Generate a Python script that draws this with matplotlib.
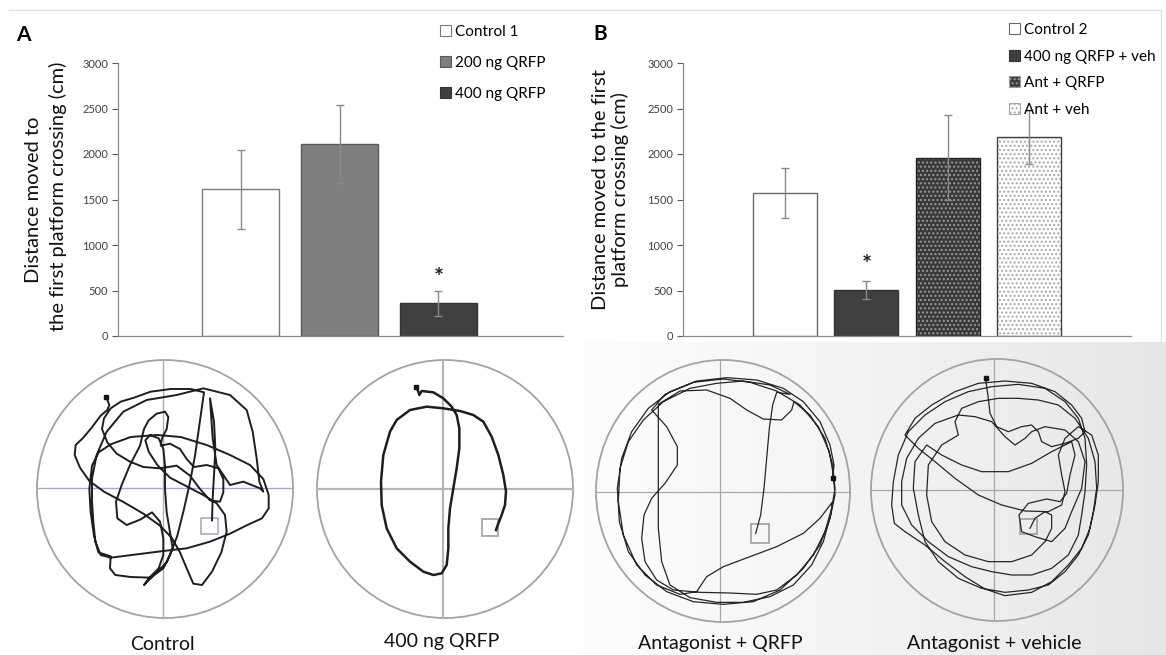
import numpy as np
import matplotlib
matplotlib.use("Agg")
import matplotlib.pyplot as plt
from matplotlib.patches import Patch, Ellipse, Rectangle

plt.rcParams['font.family'] = ['Lato', 'DejaVu Sans']

# ---------------- data ----------------
labels_a = ["Control 1", "200 ng QRFP", "400 ng QRFP"]
means_a = [1610, 2110, 360]
errs_a = [435, 425, 135]

labels_b = ["Control 2", "400 ng QRFP + veh", "Ant + QRFP", "Ant + veh"]
means_b = [1570, 505, 1960, 2185]
errs_b = [275, 95, 465, 300]

yticks = [0, 500, 1000, 1500, 2000, 2500, 3000]
pool_titles = ["Control", "400 ng QRFP", "Antagonist + QRFP", "Antagonist + vehicle"]

# swim tracks (traced waypoints, in 1/3-pixel units within each pool crop)
track_control = [
    (228,125),(238,150),(232,165),(212,182),(185,218),(158,250),(137,270),(134,300),(150,338),(178,378),
    (222,410),(282,442),(340,476),(390,512),(425,548),(450,592),(470,640),(490,686),(516,690),(546,650),
    (574,592),(590,530),(585,480),(560,445),(520,420),(470,394),(420,368),(382,330),(356,290),(346,256),
    (360,240),(386,250),(400,282),(405,332),(405,402),(410,472),(420,532),(428,580),(410,622),(380,652),
    (352,680),(342,690),(356,670),(386,640),(400,600),(400,550),(390,500),(366,472),(330,494),(290,510),
    (262,490),(258,440),(275,390),(300,330),(330,272),(342,222),(356,196),(380,176),(405,170),(415,186),
    (410,222),(396,250),(392,272),(420,266),(450,282),(470,312),(492,336),(530,330),(565,340),(580,372),
    (580,412),(570,440),(540,436),(510,402),(480,362),(440,332),(390,340),(340,336),(300,320),(260,296),
    (232,262),(216,222),(222,190),(242,160),(272,140),(312,128),(362,110),(422,102),(482,102),(522,112),
    (515,162),(505,232),(495,302),(480,382),(462,462),(442,542),(420,600),(400,640),(362,668),(302,666),
    (256,660),(240,640),(242,604),(205,592),(192,542),(182,472),(178,402),(186,332),(206,292),(242,268),
    (302,246),(382,240),(452,246),(530,270),(600,300),(660,330),(700,372),(716,420),(716,460),(696,490),
    (652,510),(600,536),(540,560),(470,580),(400,588),(320,598),(242,608),(212,600),(196,560),(190,500),
    (186,440),(186,370),(200,300),(230,230),(280,170),(350,135),(440,120),(520,100),(600,120),(650,165),
    (668,230),(680,310),(688,380),(700,410),(690,400),(640,380),(600,390),(560,330),(548,250),(540,130),
    (552,200),(556,280),(552,360),(548,430),(546,496),
]
track_qrfp = [
    (318,95),(325,110),(328,120),(335,108),(370,112),(400,130),(425,155),(440,180),(448,220),(448,280),
    (440,340),(430,400),(420,460),(415,520),(415,580),(410,630),(395,655),(370,660),(340,650),(300,620),
    (260,580),(230,520),(215,450),(213,380),(220,300),(240,230),(260,195),(300,165),(350,155),(400,160),
    (450,168),(490,180),(520,200),(545,245),(565,300),(580,360),(588,410),(585,450),(575,480),(565,505),
    (558,525),
]
track_ant_qrfp = [
    (728,370),(732,330),(720,270),(690,200),(640,140),(580,100),(500,75),(410,68),(320,78),(240,110),
    (175,160),(125,230),(95,310),(82,400),(88,500),(115,590),(165,660),(230,710),(310,740),(400,748),
    (490,740),(570,705),(640,640),(690,570),(720,490),(735,420),(730,360),(718,290),(685,215),(630,150),
    (560,108),(480,82),(400,72),(310,82),(225,118),(185,165),(230,215),(262,275),(262,330),(225,385),
    (185,430),(162,480),(155,550),(165,620),(200,675),(250,705),(330,712),(420,714),(500,718),(560,705),
    (620,660),(670,600),(705,530),(725,460),(735,400),(728,330),(705,250),(660,180),(612,140),(605,165),
    (575,195),(520,192),(470,165),(420,130),(350,105),(270,108),(205,148),(205,260),(205,400),(205,520),
    (215,620),(240,690),(300,728),(380,742),(460,742),(540,725),(610,690),(665,630),(700,560),(722,480),
    (728,440),(690,490),(640,535),(560,575),(480,605),(400,635),(350,665),(320,710),(270,718),(200,690),
    (140,630),(100,540),(85,440),(90,340),(115,260),(160,195),(220,140),(300,100),(380,85),(460,78),
    (540,90),(600,118),(560,112),(548,150),(538,220),(530,310),(522,400),(512,480),(497,535),
]
track_ant_veh = [
    (362,68),(365,95),(370,130),(375,175),(395,215),(430,230),(470,215),(500,210),(520,230),(530,260),
    (560,275),(600,265),(640,250),(660,230),(650,190),(620,150),(570,110),(500,85),(420,78),(340,85),
    (270,110),(200,150),(150,190),(120,240),(160,280),(210,320),(270,370),(340,420),(410,450),(480,468),
    (550,470),(590,450),(600,410),(590,360),(580,300),(600,250),(640,215),(680,240),(700,300),(700,380),
    (690,450),(675,520),(650,580),(610,630),(560,680),(500,712),(420,722),(360,702),(300,665),(240,620),
    (180,570),(120,530),(88,505),(80,450),(85,380),(100,300),(130,230),(180,180),(240,140),(310,110),
    (380,95),(460,88),(540,100),(600,140),(640,190),(660,250),(665,330),(660,410),(650,480),(640,540),
    (610,600),(560,640),(500,660),(440,660),(380,650),(320,635),(250,605),(190,560),(140,510),(110,450),
    (110,380),(125,310),(160,250),(210,205),(280,180),(330,185),(380,200),(420,245),(450,270),(480,250),
    (500,230),(540,215),(600,225),(640,260),(660,320),(650,400),(620,470),(600,520),(560,560),(510,545),
    (470,530),(462,480),(490,445),(545,432),(585,440),(605,415),(615,360),(630,300),(620,260),(560,290),
    (500,325),(430,350),(350,350),(290,330),(230,300),(185,270),(150,320),(145,400),(160,480),(180,560),
    (220,620),(280,670),(350,700),(420,712),(490,705),(550,690),(600,650),(640,600),(670,540),(685,470),
    (695,400),(690,320),(670,250),(630,190),(580,150),(520,135),(460,130),(400,130),(340,140),(290,160),
    (270,200),(280,240),(230,270),(190,330),(185,420),(200,500),(240,560),(300,600),(370,620),(440,620),
    (500,600),(540,560),(560,520),(560,480),(540,470),(510,490),(495,520),
]

# ---------------- figure ----------------
W, H = 1166, 655
fig = plt.figure(figsize=(W / 100, H / 100), dpi=100)
fig.patch.set_facecolor('white')

# overlay in pixel coordinates for the photos
ov = fig.add_axes([0, 0, 1, 1])
ov.set_xlim(0, W)
ov.set_ylim(H, 0)
ov.axis('off')

# grey gradient background behind right photos
grad = np.linspace(0, 1, 256)[None, :]
ov.imshow(grad, extent=(583, W, H, 342), cmap=matplotlib.colors.LinearSegmentedColormap.from_list(
    'g', ['#fdfdfd', '#f3f3f3', '#e6e6e6']), vmin=0, vmax=1, aspect='auto', zorder=0)
ov.set_xlim(0, W)
ov.set_ylim(H, 0)

# frame lines
ov.plot([9, 1161], [10, 10], color='#e3e3e3', lw=1, zorder=1)
ov.plot([1161, 1161], [10, 343], color='#e3e3e3', lw=1, zorder=1)

pools = [
    dict(off=(30, 355), c=(165, 489), rx=128, ry=129, vx=163, hy=488, plat=(201, 518, 17, 16),
         cc='#a9a9cf', pc='#a9a9cf', clw=1.0, tr=track_control, tlw=1.4, tc='#1e1e1e'),
    dict(off=(310, 355), c=(445, 489), rx=128, ry=129, vx=443, hy=489, plat=(482, 519, 16, 17),
         cc='#b5b5b5', pc='#a0a0a0', clw=1.6, tr=track_qrfp, tlw=1.8, tc='#1e1e1e'),
    dict(off=(590, 355), c=(723, 491), rx=127, ry=131, vx=720, hy=492, plat=(751, 524, 18, 19),
         cc='#a8a8a8', pc='#a0a0a0', clw=0.9, tr=track_ant_qrfp, tlw=0.9, tc='#262626'),
    dict(off=(865, 355), c=(997, 490), rx=126, ry=131, vx=994, hy=490, plat=(1020, 519, 17, 15),
         cc='#a8a8a8', pc='#a0a0a0', clw=0.9, tr=track_ant_veh, tlw=0.9, tc='#262626'),
]
title_y = [644, 642, 644, 643]
for p, t, ty in zip(pools, pool_titles, title_y):
    cx, cy = p['c']
    ov.add_patch(Ellipse((cx, cy), 2 * p['rx'], 2 * p['ry'], fill=False,
                         edgecolor='#a3a3a3', lw=1.3, zorder=2))
    ov.plot([p['vx'], p['vx']], [cy - p['ry'], cy + p['ry']], color=p['cc'], lw=p['clw'], zorder=2)
    ov.plot([cx - p['rx'], cx + p['rx']], [p['hy'], p['hy']], color=p['cc'], lw=p['clw'], zorder=2)
    px, py, pw, ph = p['plat']
    ov.add_patch(Rectangle((px, py), pw, ph, fill=False, edgecolor=p['pc'], lw=1.2, zorder=2))
    tr = np.array(p['tr'], dtype=float)
    ox, oy = p['off']
    xs = ox + tr[:, 0] / 3.0
    ys = oy + tr[:, 1] / 3.0
    ov.plot(xs, ys, color=p['tc'], lw=p['tlw'], zorder=3, solid_joinstyle='round')
    ov.plot(xs[0], ys[0], 's', color='#111111', ms=3.5, zorder=4)
    ov.text(cx - 3, ty, t, ha='center', va='center', fontsize=14, color='#111111', zorder=5)

# ---------------- bar charts ----------------
def style_axes(ax):
    ax.set_facecolor('none')
    ax.set_ylim(0, 3000)
    ax.set_yticks(yticks)
    ax.set_yticklabels([str(v) for v in yticks])
    ax.tick_params(axis='y', labelsize=8, colors='#595959', length=4, width=0.8, pad=3,
                   labelcolor='#404040')
    ax.tick_params(axis='x', length=0, labelbottom=False)
    for s in ['top', 'right']:
        ax.spines[s].set_visible(False)
    ax.spines['left'].set_color('#8c8c8c')
    ax.spines['bottom'].set_color('#8c8c8c')
    ax.spines['left'].set_linewidth(0.9)
    ax.spines['bottom'].set_linewidth(0.9)

err_kw = dict(ecolor='#8a8a8a', elinewidth=1.0, capsize=2.8, capthick=1.0)

axA = fig.add_axes([118 / W, 1 - 336 / H, 445 / W, 273 / H])
style_axes(axA)
xa = np.arange(1, len(means_a) + 1)
fills_a = ['white', '#7f7f7f', '#404040']
edges_a = ['#7a7a7a', '#595959', '#333333']
axA.bar(xa, means_a, width=0.78, color=fills_a, edgecolor=edges_a, linewidth=1.0, zorder=2)
axA.errorbar(xa, means_a, yerr=errs_a, fmt='none', zorder=3, **err_kw)
axA.set_xlim(-0.24, 4.26)
axA.annotate('*', (xa[2], means_a[2] + errs_a[2]), xytext=(0, 1), textcoords='offset points',
             ha='center', va='bottom', fontsize=17, fontweight='bold', color='#222222')
handles_a = [Patch(facecolor=f, edgecolor=e, lw=0.8) for f, e in zip(fills_a, edges_a)]
fig.legend(handles_a, labels_a, loc='upper left', bbox_to_anchor=(440 / W, 1 - 25 / H),
           frameon=False, fontsize=11, handlelength=0.7, handleheight=0.7, handletextpad=0.3,
           labelspacing=1.1, borderpad=0, borderaxespad=0)

axB = fig.add_axes([683 / W, 1 - 336 / H, 448 / W, 273 / H])
style_axes(axB)
xb = np.arange(1, len(means_b) + 1)
fills_b = ['white', '#404040', '#3a3a3a', 'white']
edges_b = ['#6a6a6a', '#333333', '#262626', '#404040']
hatch_b = [None, None, '....', '....']
hatchc_b = [None, None, '#9a9a9a', '#a8a8a8']
for xi, m, f, e, h, hc in zip(xb, means_b, fills_b, edges_b, hatch_b, hatchc_b):
    if h:
        axB.bar(xi, m, width=0.79, color=f, edgecolor=hc, hatch=h, linewidth=0, zorder=2)
        axB.bar(xi, m, width=0.79, color='none', edgecolor=e, linewidth=1.0, zorder=2.1)
    else:
        axB.bar(xi, m, width=0.79, color=f, edgecolor=e, linewidth=1.0, zorder=2)
axB.errorbar(xb, means_b, yerr=errs_b, fmt='none', zorder=3, **err_kw)
axB.set_xlim(-0.255, 5.255)
axB.annotate('*', (xb[1], means_b[1] + errs_b[1]), xytext=(0, 3), textcoords='offset points',
             ha='center', va='bottom', fontsize=17, fontweight='bold', color='#222222')
handles_b = []
for f, e, h, hc in zip(fills_b, edges_b, hatch_b, hatchc_b):
    if h:
        handles_b.append(Patch(facecolor=f, edgecolor=hc, hatch=h, lw=0.8))
    else:
        handles_b.append(Patch(facecolor=f, edgecolor=e, lw=0.8))
fig.legend(handles_b, labels_b, loc='upper left', bbox_to_anchor=(1009 / W, 1 - 23 / H),
           frameon=False, fontsize=11, handlelength=0.7, handleheight=0.7, handletextpad=0.3,
           labelspacing=0.82, borderpad=0, borderaxespad=0)

# y labels
fig.text(34 / W, 1 - 200 / H, 'Distance moved to', rotation=90, ha='center', va='center',
         fontsize=14.5, color='#111111')
fig.text(58 / W, 1 - 196 / H, 'the first platform crossing (cm)', rotation=90, ha='center',
         va='center', fontsize=14.5, color='#111111')
fig.text(601 / W, 1 - 190 / H, 'Distance moved to the first', rotation=90, ha='center',
         va='center', fontsize=14.5, color='#111111')
fig.text(620 / W, 1 - 190 / H, 'platform crossing (cm)', rotation=90, ha='center',
         va='center', fontsize=14.5, color='#111111')

# panel letters
fig.text(23 / W, 1 - 35 / H, 'A', ha='center', va='center', fontsize=15, fontweight='bold')
fig.text(600 / W, 1 - 34 / H, 'B', ha='center', va='center', fontsize=15, fontweight='bold')

fig.savefig('out.png', dpi=100)
